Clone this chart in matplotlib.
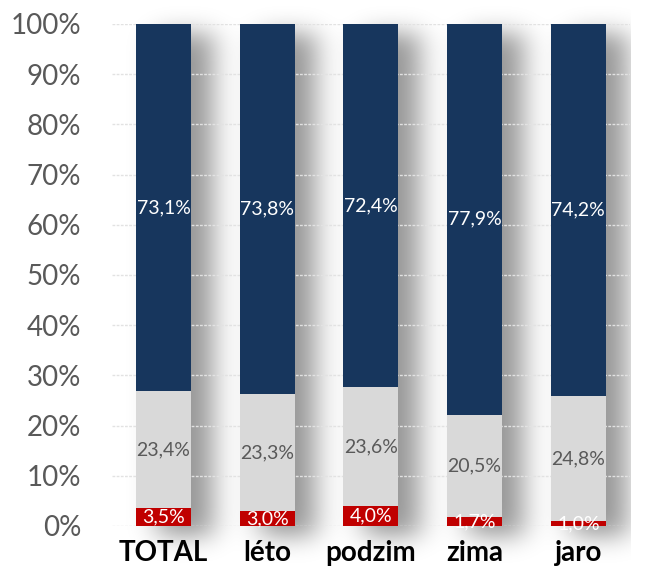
import numpy as np
import matplotlib.pyplot as plt

categories = ['TOTAL', 'léto', 'podzim', 'zima', 'jaro']
red_vals = [3.5, 3.0, 4.0, 1.7, 1.0]
gray_vals = [23.4, 23.3, 23.6, 20.5, 24.8]
navy_vals = [73.1, 73.8, 72.4, 77.9, 74.2]

plt.rcParams['font.family'] = ['Lato', 'DejaVu Sans']

fig = plt.figure(figsize=(6.45, 5.70), dpi=100)
ax = fig.add_axes([0.173, 0.0772, 0.804, 0.8808])

x = np.arange(len(categories))
w = 0.53
red = np.array(red_vals)
gray = np.array(gray_vals)
navy = np.array(navy_vals)
tot = red + gray + navy
red_n, gray_n, navy_n = red / tot * 100, gray / tot * 100, navy / tot * 100

# blurred drop shadow behind bars (offset right and a bit down)
x0, x1, y0, y1 = -0.5, 4.5, -10, 104
nx, ny = 520, 570
gx = np.linspace(x0, x1, nx)
gy = np.linspace(y0, y1, ny)
mask = np.zeros((ny, nx))
dx, dy = 0.2, -2.0
for xi in x:
    cx = (gx >= xi - w / 2 + dx) & (gx <= xi + w / 2 + dx)
    cy = (gy >= 0 + dy) & (gy <= 100 + dy)
    mask[np.ix_(cy, cx)] = 1.0

def blur(a, sigma, axis):
    r = int(3 * sigma)
    k = np.exp(-0.5 * (np.arange(-r, r + 1) / sigma) ** 2)
    k /= k.sum()
    return np.apply_along_axis(lambda v: np.convolve(np.pad(v, r, mode='edge'), k, mode='valid'), axis, a)

sx = 14 / 103.75 * (nx / 5)
sy = 12 / 5.02 * (ny / 114)
mask = blur(blur(mask, sx, 1), sy, 0)
rgba = np.zeros((ny, nx, 4))
rgba[..., 3] = 0.42 * mask
ax.imshow(rgba, extent=(x0, x1, y0, y1), origin='lower', aspect='auto',
          interpolation='bilinear', zorder=1, clip_on=False)

ax.grid(axis='y', color='#e2e2e2', linestyle=(0, (2, 1)), linewidth=1, zorder=2)
ax.set_axisbelow(False)

ax.bar(x, red_n, width=w, color='#c00000', zorder=3)
ax.bar(x, gray_n, width=w, bottom=red_n, color='#d9d9d9', zorder=3)
ax.bar(x, navy_n, width=w, bottom=red_n + gray_n, color='#17365d', zorder=3)

def fmt(v):
    return f'{v:.1f}%'.replace('.', ',')

for i in range(len(categories)):
    ax.text(x[i], red_n[i] / 2, fmt(red[i]), ha='center', va='center',
            color='white', fontsize=14, zorder=4)
    ax.text(x[i], red_n[i] + gray_n[i] / 2, fmt(gray[i]), ha='center', va='center',
            color='#595959', fontsize=14, zorder=4)
    ax.text(x[i], red_n[i] + gray_n[i] + navy_n[i] / 2, fmt(navy[i]), ha='center',
            va='center', color='white', fontsize=14, zorder=4)

ax.set_xlim(-0.5, 4.5)
ax.set_ylim(0, 100)
ax.set_yticks(np.arange(0, 101, 10))
ax.set_yticklabels([f'{t}%' for t in range(0, 101, 10)], fontsize=20, color='#595959')
ax.set_xticks(x)
ax.set_xticklabels(categories, fontsize=20, fontweight='bold', color='black')
ax.tick_params(axis='y', length=0, pad=22)
ax.tick_params(axis='x', length=0, pad=10)
for s in ax.spines.values():
    s.set_visible(False)

fig.savefig('out.png', dpi=100)
